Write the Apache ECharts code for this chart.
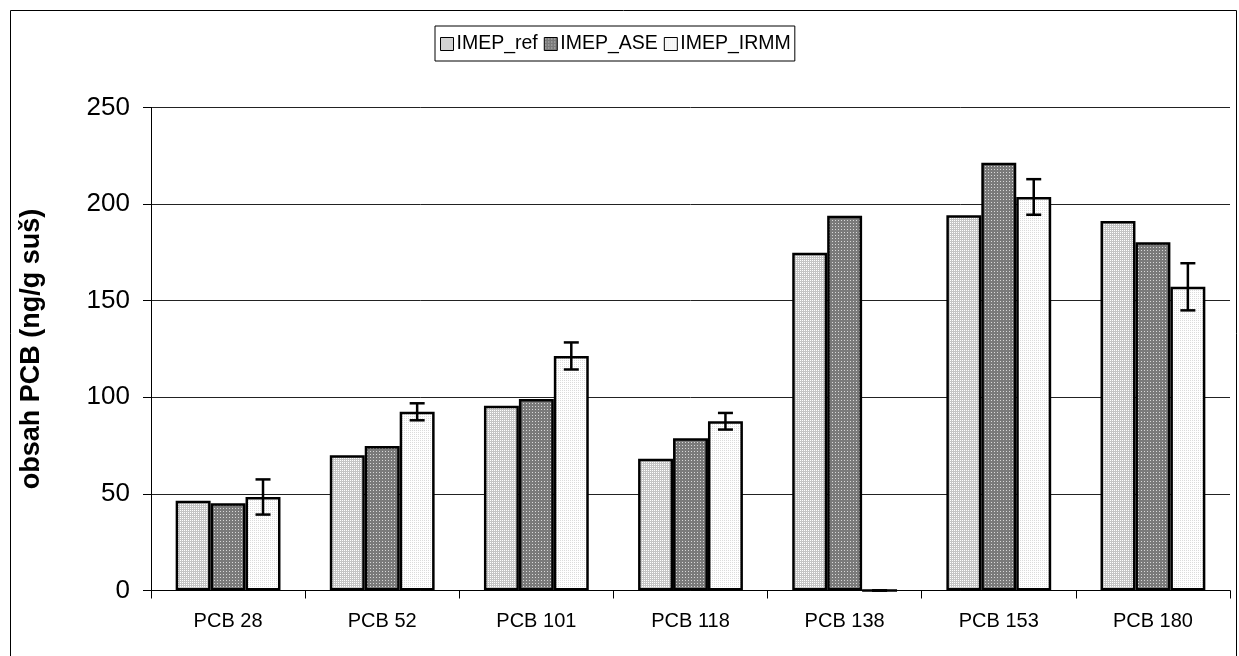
<!DOCTYPE html>
<html>
<head>
<meta charset="utf-8">
<script src="https://cdn.jsdelivr.net/npm/echarts@6/dist/echarts.min.js"></script>
<style>
  html, body { margin: 0; padding: 0; background: #fff; }
  #chart { width: 1239px; height: 656px; }
</style>
</head>
<body>
<div id="chart"></div>
<script>
// PCB congener content, ng/g dry matter
const categories = ['PCB 28', 'PCB 52', 'PCB 101', 'PCB 118', 'PCB 138', 'PCB 153', 'PCB 180'];
const seriesNames = ['IMEP_ref', 'IMEP_ASE', 'IMEP_IRMM'];
const imepRef = [46.5, 70, 95.6, 68.2, 174.8, 194.2, 191.3];
const imepAse = [45.1, 74.8, 99.1, 78.8, 194, 221.4, 180.2];
const imepIrmm = [48.4, 92.5, 121.4, 87.6, 0, 203.7, 157.2];
const imepIrmmErr = [9.1, 4.4, 7, 4.3, 0, 9.2, 12.2];
const yTicks = [0, 50, 100, 150, 200, 250];

// small tiled fills
function makePattern(size, bg, fg, dots) {
  const c = document.createElement('canvas');
  c.width = size; c.height = size;
  const ctx = c.getContext('2d');
  ctx.fillStyle = bg;
  ctx.fillRect(0, 0, size, size);
  ctx.fillStyle = fg;
  dots.forEach(d => ctx.fillRect(d[0], d[1], d[2] || 1, d[3] || 1));
  return { image: c, repeat: 'repeat' };
}
const fillRef = makePattern(2, '#c4c4c4', '#ffffff', [[0, 0]]);
const fillAse = makePattern(3, '#7a7a7a', '#d8d8d8', [[1, 1]]);
const fillIrmm = makePattern(2, '#ffffff', '#dcdcdc', [[0, 0]]);

const chart = echarts.init(document.getElementById('chart'), null, { renderer: 'canvas' });

const barStyle = fill => ({ color: fill, borderColor: '#000', borderWidth: 2.5 });
const band = 0.68;
const font = 'Liberation Sans, Arial, sans-serif';

const option = {
  backgroundColor: '#fff',
  animation: false,
  graphic: [{
    type: 'rect',
    shape: { x: 10.5, y: 10.5, width: 1226, height: 660 },
    style: { fill: null, stroke: '#000', lineWidth: 1 },
    silent: true
  }],
  legend: {
    data: seriesNames,
    left: 435,
    top: 26,
    padding: [8, 4, 7, 5],
    itemGap: 6,
    itemWidth: 13,
    itemHeight: 13,
    icon: 'rect',
    borderColor: '#000',
    borderWidth: 1,
    itemStyle: { borderColor: '#000', borderWidth: 1 },
    textStyle: { fontFamily: font, fontSize: 19.5, color: '#000', padding: [0, 0, 0, -2] }
  },
  grid: { left: 151, right: 9, top: 107.5, bottom: 65.5, containLabel: false },
  xAxis: {
    type: 'category',
    data: categories,
    axisLine: { lineStyle: { color: '#000', width: 1 } },
    axisTick: { show: true, length: 8, inside: false, lineStyle: { color: '#000' } },
    axisLabel: { fontFamily: font, fontSize: 20, color: '#000', margin: 21 }
  },
  yAxis: {
    type: 'value',
    min: yTicks[0],
    max: yTicks[yTicks.length - 1],
    interval: 50,
    name: 'obsah PCB (ng/g suš)',
    nameLocation: 'middle',
    nameGap: 106,
    nameTextStyle: { fontFamily: font, fontSize: 27, fontWeight: 'bold', color: '#000' },
    axisLine: { show: true, lineStyle: { color: '#000', width: 1 } },
    axisTick: { show: true, length: 8, lineStyle: { color: '#000' } },
    axisLabel: { fontFamily: font, fontSize: 26, color: '#000', margin: 21 },
    splitLine: { lineStyle: { color: '#222', width: 1 } }
  },
  series: [
    { name: seriesNames[0], type: 'bar', data: imepRef, barGap: '0%', barCategoryGap: '32%', itemStyle: barStyle(fillRef) },
    { name: seriesNames[1], type: 'bar', data: imepAse, barGap: '0%', barCategoryGap: '32%', itemStyle: barStyle(fillAse) },
    { name: seriesNames[2], type: 'bar', data: imepIrmm, barGap: '0%', barCategoryGap: '32%', itemStyle: barStyle(fillIrmm) },
    {
      type: 'custom',
      name: 'err',
      z: 10,
      data: imepIrmm.map((v, i) => [i, v - imepIrmmErr[i], v + imepIrmmErr[i]]),
      renderItem: function (params, api) {
        const i = api.value(0);
        const lo = api.coord([i, api.value(1)]);
        const hi = api.coord([i, api.value(2)]);
        const bw = api.size([1, 0])[0];
        const x = lo[0] + bw * band / 3;
        const cap = 7.5;
        const st = { stroke: '#000', lineWidth: 2.5 };
        return {
          type: 'group',
          children: [
            { type: 'line', shape: { x1: x, y1: hi[1], x2: x, y2: lo[1] }, style: st },
            { type: 'line', shape: { x1: x - cap, y1: hi[1], x2: x + cap, y2: hi[1] }, style: st },
            { type: 'line', shape: { x1: x - cap, y1: lo[1], x2: x + cap, y2: lo[1] }, style: st }
          ]
        };
      }
    }
  ]
};
chart.setOption(option);
</script>
</body>
</html>
